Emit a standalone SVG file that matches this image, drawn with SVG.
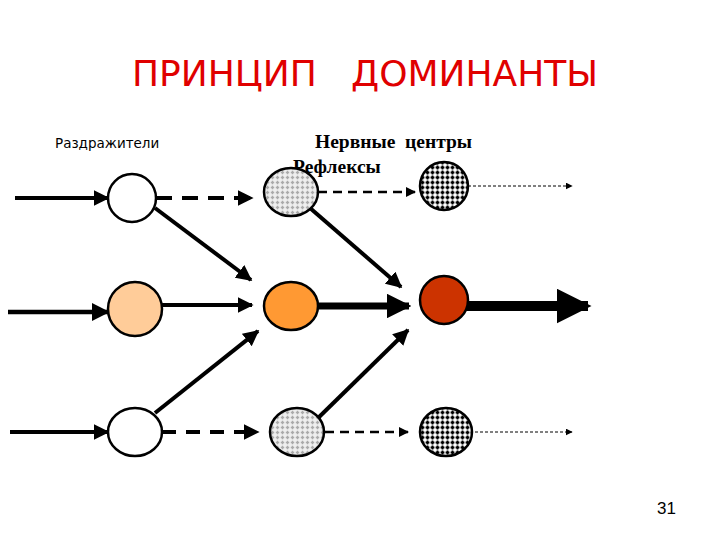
<svg xmlns="http://www.w3.org/2000/svg" width="720" height="540" viewBox="0 0 720 540">
<style>
.n{stroke:#000;stroke-width:2.5}
.c{stroke:#000;fill:none}
</style>
<defs>
<pattern id="pg" width="5" height="5" patternUnits="userSpaceOnUse">
<rect width="5" height="5" fill="#efefef"/>
<path d="M2.5 0.8v3.4M0.8 2.5h3.4" stroke="#aaa" stroke-width="1.4"/>
</pattern>
<pattern id="pb" width="5" height="5" patternUnits="userSpaceOnUse">
<rect width="5" height="5" fill="#fff"/>
<path d="M2.5 0.6v3.8M0.6 2.5h3.8" stroke="#000" stroke-width="1.8"/>
</pattern>
<marker id="a" viewBox="0 0 10 10" refX="9" refY="5" markerWidth="4" markerHeight="4" orient="auto" markerUnits="strokeWidth"><path d="M0 0L10 5L0 10z"/></marker>
<marker id="as" viewBox="0 0 10 10" refX="9" refY="5" markerWidth="3.5" markerHeight="3.5" orient="auto" markerUnits="strokeWidth"><path d="M0 0L10 5L0 10z"/></marker>
<marker id="at" viewBox="0 0 10 10" refX="9" refY="5" markerWidth="7" markerHeight="7" orient="auto" markerUnits="strokeWidth"><path d="M0 0L10 5L0 10z"/></marker>
</defs>
<rect width="720" height="540" fill="#fff"/>
<text x="365" y="86" text-anchor="middle" font-family="DejaVu Sans, sans-serif" font-size="36" fill="#e00000" xml:space="preserve">ПРИНЦИП   ДОМИНАНТЫ</text>
<text x="55" y="148" font-family="DejaVu Sans, sans-serif" font-size="13.5">Раздражители</text>
<text x="315" y="148" font-family="Liberation Serif, serif" font-weight="bold" font-size="19.5" xml:space="preserve">Нервные  центры</text>
<text x="293" y="173" font-family="Liberation Serif, serif" font-weight="bold" font-size="19.5">Рефлексы</text>
<text x="657" y="514" font-family="Liberation Sans, sans-serif" font-size="17">31</text>
<g id="connectors">
<line class="c" x1="15" y1="198" x2="108" y2="198" stroke-width="4" marker-end="url(#a)"/>
<line class="c" x1="8" y1="312" x2="108" y2="312" stroke-width="4.5" marker-end="url(#a)"/>
<line class="c" x1="10" y1="432" x2="108" y2="432" stroke-width="4" marker-end="url(#a)"/>
<line class="c" x1="156" y1="198" x2="252" y2="198" stroke-width="4" stroke-dasharray="16,10" marker-end="url(#a)"/>
<line class="c" x1="155" y1="208" x2="251" y2="280" stroke-width="4" marker-end="url(#a)"/>
<line class="c" x1="161" y1="305" x2="252" y2="305" stroke-width="4" marker-end="url(#a)"/>
<line class="c" x1="155" y1="413" x2="258" y2="331" stroke-width="4" marker-end="url(#a)"/>
<line class="c" x1="162" y1="432" x2="258" y2="432" stroke-width="4" stroke-dasharray="14,10" marker-end="url(#a)"/>
<line class="c" x1="318" y1="192" x2="415" y2="192" stroke-width="2.5" stroke-dasharray="9,6" marker-end="url(#a)"/>
<line class="c" x1="310" y1="208" x2="401" y2="287" stroke-width="4" marker-end="url(#a)"/>
<line class="c" x1="316" y1="306" x2="409" y2="306" stroke-width="7" marker-end="url(#as)"/>
<line class="c" x1="316" y1="420" x2="408" y2="330" stroke-width="4" marker-end="url(#a)"/>
<line class="c" x1="325" y1="432" x2="408" y2="432" stroke-width="2.5" stroke-dasharray="9,6" marker-end="url(#a)"/>
<line class="c" x1="468" y1="186" x2="572" y2="186" stroke="#333" stroke-width="1" stroke-dasharray="3,2" marker-end="url(#at)"/>
<line class="c" x1="465" y1="306" x2="588" y2="306" stroke-width="10" marker-end="url(#as)"/>
<line class="c" x1="470" y1="432" x2="572" y2="432" stroke="#333" stroke-width="1" stroke-dasharray="3,2" marker-end="url(#at)"/>
</g>
<g id="s1"><ellipse class="n" cx="132" cy="198" rx="24" ry="24" fill="#fff"/></g>
<g id="s2"><ellipse class="n" cx="135" cy="309" rx="27" ry="27" fill="#ffcc99"/></g>
<g id="s3"><ellipse class="n" cx="135" cy="432" rx="27" ry="24" fill="#fff"/></g>
<g id="c1"><ellipse class="n" cx="291" cy="192" rx="27" ry="24" fill="url(#pg)"/></g>
<g id="c2"><ellipse class="n" cx="291" cy="306" rx="27" ry="24" fill="#ff9933"/></g>
<g id="c3"><ellipse class="n" cx="297" cy="432" rx="27" ry="24" fill="url(#pg)"/></g>
<g id="r1"><ellipse class="n" cx="444" cy="186" rx="24" ry="24" fill="url(#pb)"/></g>
<g id="r2"><ellipse class="n" cx="444" cy="300" rx="24" ry="24" fill="#cc3300"/></g>
<g id="r3"><ellipse class="n" cx="446" cy="432" rx="26" ry="24" fill="url(#pb)"/></g>
</svg>
